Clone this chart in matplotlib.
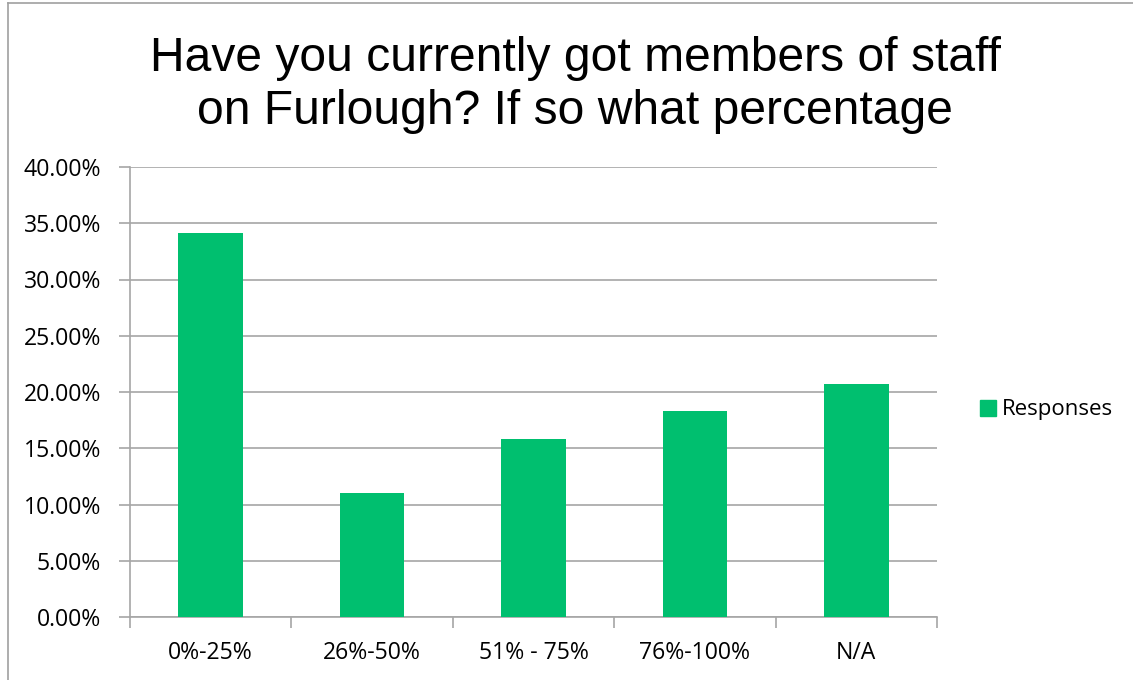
import matplotlib
matplotlib.use("Agg")
import matplotlib.pyplot as plt
from matplotlib.ticker import FuncFormatter, FixedLocator
from matplotlib.lines import Line2D

categories = ["0%-25%", "26%-50%", "51% - 75%", "76%-100%", "N/A"]
responses = [34.15, 10.98, 15.85, 18.29, 20.73]
series_name = "Responses"
title = "Have you currently got members of staff\non Furlough? If so what percentage"

bar_color = "#00BF6F"
grid_color = "#A6A6A6"

fig = plt.figure(figsize=(11.33, 6.8), dpi=100)
ax = fig.add_axes([130/1133, 1-617/680, (937-130)/1133, (617-167)/680])

x = list(range(len(categories)))
ax.bar(x, responses, width=0.4, color=bar_color, label=series_name, zorder=3)

ax.set_xlim(-0.5, len(categories) - 0.5)
ax.set_ylim(0, 40)
ax.set_yticks([0, 5, 10, 15, 20, 25, 30, 35, 40])
ax.yaxis.set_major_formatter(FuncFormatter(lambda v, p: f"{v:.2f}%"))
ax.grid(axis="y", color=grid_color, linewidth=1.2, zorder=0)

ax.set_xticks(x)
ax.set_xticklabels(categories)
ax.xaxis.set_minor_locator(FixedLocator([i - 0.5 for i in range(len(categories) + 1)]))
ax.tick_params(axis="x", which="major", length=0, pad=17)
ax.tick_params(axis="x", which="minor", length=8, color=grid_color, width=1.2)
ax.tick_params(axis="y", length=8, color=grid_color, width=1.2, pad=13)

for lbl in ax.get_xticklabels() + ax.get_yticklabels():
    lbl.set_fontfamily("Open Sans")
    lbl.set_fontsize(16.6)
    lbl.set_color("#000000")

for s in ["top", "right"]:
    ax.spines[s].set_visible(False)
for s in ["left", "bottom"]:
    ax.spines[s].set_color(grid_color)
    ax.spines[s].set_linewidth(1.2)

fig.text(575/1133, 1-85/680, title, ha="center", va="center",
         fontsize=34.6, family="Liberation Sans", linespacing=1.22)

leg = fig.legend(handles=[plt.Rectangle((0, 0), 1, 1, color=bar_color)], labels=[series_name],
                 loc="center left", bbox_to_anchor=(960/1133, 1-410/680), frameon=False,
                 prop={"family": "Open Sans", "size": 16.0}, handlelength=0.7, handleheight=0.7,
                 handletextpad=0.3)

# chart border (left and top)
fig.add_artist(Line2D([7.5/1133, 7.5/1133], [0, 1-3/680], color="#A0A0A0", lw=1.2, transform=fig.transFigure))
fig.add_artist(Line2D([7.5/1133, 1], [1-3/680, 1-3/680], color="#A0A0A0", lw=1.2, transform=fig.transFigure))

fig.savefig("out.png", dpi=100)
